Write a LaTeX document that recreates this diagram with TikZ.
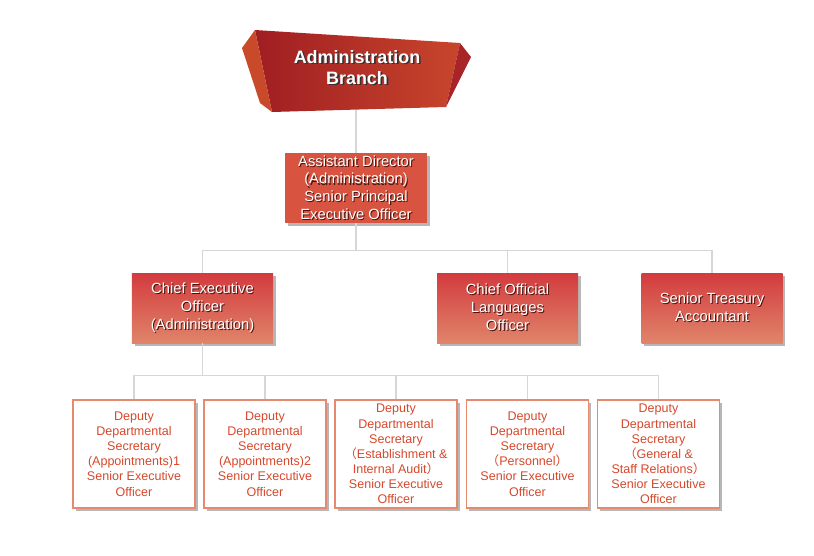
\documentclass[tikz,border=0pt]{standalone}
\usepackage{fontspec}
\setmainfont{Liberation Sans}
\newfontfamily\cjk{Noto Sans CJK SC}
\usepackage{xcolor}
\usetikzlibrary{shadows}

\definecolor{titlered}{HTML}{A01E22}
\definecolor{titlelight}{HTML}{C8452C}
\definecolor{titleside}{HTML}{C94A2B}
\definecolor{titledark}{HTML}{A82427}
\definecolor{headred}{HTML}{D95440}
\definecolor{chiefTop}{HTML}{D33B3E}
\definecolor{chiefBot}{HTML}{E0846A}
\definecolor{deputyline}{HTML}{E58A6E}
\definecolor{deputytext}{HTML}{D6482C}
\definecolor{linkgray}{HTML}{D6D6D6}
\definecolor{txtshadow}{HTML}{4A1410}

% white text with a dark copy behind it
\newcommand\shtext[1]{\makebox[0pt][l]{\kern0.9pt\raisebox{-0.9pt}{\color{txtshadow}#1}}#1}
\newcommand\shtitle[1]{\makebox[0pt][l]{\kern1.4pt\raisebox{-1.4pt}{\color{black!80}#1}}#1}
\newcommand\fwl{{\cjk （}}
\newcommand\fwr{{\cjk ）}}

\begin{document}
\begin{tikzpicture}[x=0.03cm, y=-0.03cm,
    link/.style={draw=linkgray, line width=1.2pt},
    boxshadow/.style={drop shadow={shadow xshift=2.2pt, shadow yshift=-2.2pt, fill=black!40, opacity=0.7}},
    headbox/.style={boxshadow, fill=headred, text=white, align=center,
        minimum width=4.26cm, minimum height=2.1cm, inner sep=0pt,
        font=\fontsize{12.6pt}{15pt}\selectfont},
    chiefbox/.style={boxshadow, top color=chiefTop, bottom color=chiefBot, text=white, align=center,
        minimum width=4.23cm, minimum height=2.1cm, inner sep=0pt,
        font=\fontsize{12.6pt}{15.3pt}\selectfont},
    deputybox/.style={boxshadow, fill=white, draw=deputyline, line width=1.5pt, text=deputytext, align=center,
        minimum width=3.66cm, minimum height=3.24cm, inner sep=0pt,
        font=\fontsize{10.7pt}{12.9pt}\selectfont},
    titletext/.style={text=white, align=center, font=\bfseries\fontsize{15.3pt}{18pt}\selectfont}]
\useasboundingbox (0,0) rectangle (814,555);

% title banner
\shade[left color=titlered, right color=titlelight] (255,30) -- (460,43) -- (446,107) -- (272,112) -- cycle;
\fill[titleside] (255,30) -- (242,48) -- (260,103) -- (272,112) -- cycle;
\fill[titledark] (460,43) -- (471,57) -- (446,107) -- cycle;
\coordinate (bfoot) at (356,110);

% connectors first, boxes on top
\draw[link] (bfoot) -- (356,153);

\node[headbox] (ad) at (356,188) {\shtext{Assistant Director}\\\shtext{(Administration)}\\\shtext{Senior Principal}\\\shtext{Executive Officer}};

\node[chiefbox] (ceo) at (202.5,308) {\shtext{Chief Executive}\\\shtext{Officer}\\\shtext{(Administration)}};
\node[chiefbox] (col) at (507.5,308) {\shtext{Chief Official}\\\shtext{Languages}\\\shtext{Officer}};
\node[chiefbox] (sta) at (712,308) {\shtext{Senior Treasury}\\\shtext{Accountant}};

\node[deputybox] (dds1) at (134,454) {Deputy\\Departmental\\Secretary\\(Appointments)1\\Senior Executive\\Officer};
\node[deputybox] (dds2) at (265,454) {Deputy\\Departmental\\Secretary\\(Appointments)2\\Senior Executive\\Officer};
\node[deputybox] (dds3) at (396,454) {Deputy\\Departmental\\Secretary\\\fwl Establishment \&\\Internal Audit\fwr\\Senior Executive\\Officer};
\node[deputybox] (dds4) at (527.5,454) {Deputy\\Departmental\\Secretary\\\fwl Personnel\fwr\\Senior Executive\\Officer};
\node[deputybox] (dds5) at (658.5,454) {Deputy\\Departmental\\Secretary\\\fwl General \&\\Staff Relations\fwr\\Senior Executive\\Officer};

\foreach \n in {ceo,col,sta}
    \draw[link] (ad.south) -- ++(0,27.5) -| (\n.north);
\foreach \n in {dds1,dds2,dds3,dds4,dds5}
    \draw[link] (ceo.south) -- ++(0,32) -| (\n.north);

\node[titletext] (branch) at (357,68) {\shtitle{Administration}\\\shtitle{Branch}};
\end{tikzpicture}
\end{document}
